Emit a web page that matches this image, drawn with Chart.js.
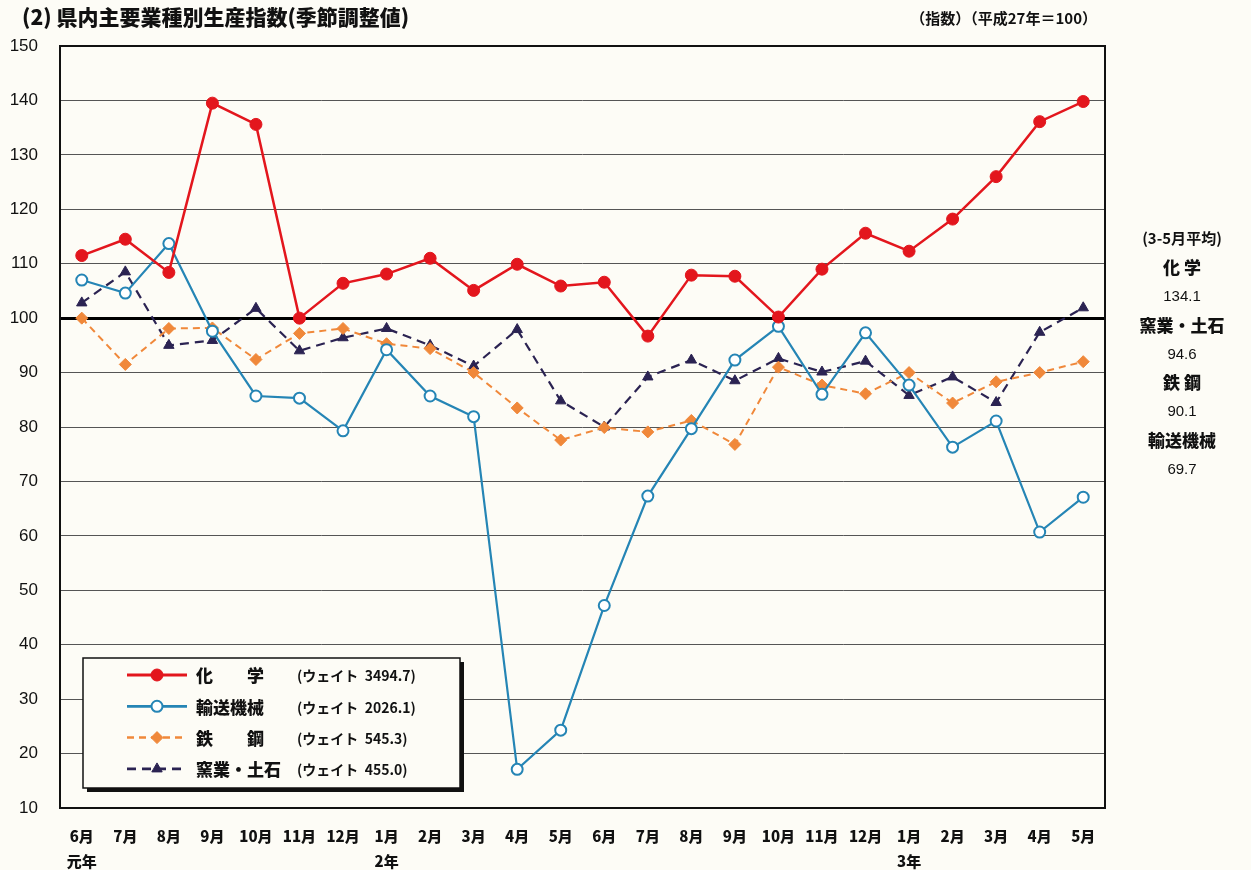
<!DOCTYPE html>
<html>
<head>
<meta charset="utf-8">
<script src="https://cdn.jsdelivr.net/npm/chart.js@4"></script>
<style>
  html, body { margin: 0; padding: 0; background: #fdfcf6; }
  #wrap { width: 1251px; height: 870px; position: relative; }
</style>
</head>
<body>
<div id="wrap"><canvas id="prodChart" width="1251" height="870"></canvas></div>
<script>
const months = ["6月","7月","8月","9月","10月","11月","12月","1月","2月","3月","4月","5月",
                "6月","7月","8月","9月","10月","11月","12月","1月","2月","3月","4月","5月"];
const yearLabels = ["元年","","","","","","","2年","","","","","","","","","","","","3年","","","",""];

const chemistry = [111.5,114.5,108.4,139.5,135.6,100.0,106.4,108.1,111.0,105.1,109.9,105.9,
                   106.6,96.7,107.9,107.7,100.2,109.0,115.6,112.3,118.2,126.0,136.1,139.8];
const transport = [107.0,104.6,113.7,97.6,85.7,85.3,79.3,94.2,85.7,81.9,17.1,24.3,
                   47.2,67.3,79.7,92.3,98.5,86.0,97.3,87.7,76.3,81.1,60.7,67.1];
const steel = [100.0,91.5,98.1,98.2,92.4,97.2,98.1,95.3,94.4,90.0,83.5,77.6,
               79.9,79.1,81.2,76.8,91.0,87.7,86.1,90.0,84.4,88.3,90.0,92.0];
const ceramics = [102.8,108.5,95.0,95.9,101.8,94.0,96.4,98.1,95.0,91.2,97.9,84.8,
                  80.0,89.2,92.3,88.5,92.6,90.1,92.1,85.8,89.2,84.5,97.4,101.9];

const seriesNames = ["化　　学", "輸送機械", "鉄　　鋼", "窯業・土石"];
const seriesWeights = ["3494.7", "2026.1", "545.3", "455.0"];

const avgNames = ["化 学", "窯業・土石", "鉄 鋼", "輸送機械"];
const avgValues = ["134.1", "94.6", "90.1", "69.7"];

const JP = "'Noto Sans CJK JP', 'Liberation Sans', sans-serif";
const NUM = "'Liberation Sans Narrow', 'Liberation Sans', Arial, sans-serif";

const decor = {
  id: "decor",
  beforeDraw(chart) {
    const { ctx } = chart;
    ctx.save();
    ctx.fillStyle = "#fdfcf6";
    ctx.fillRect(0, 0, chart.width, chart.height);
    ctx.restore();
  },
  afterDatasetsDraw(chart) {
    const { ctx, chartArea: a } = chart;
    ctx.save();
    // plot frame
    ctx.strokeStyle = "#111";
    ctx.lineWidth = 2;
    ctx.strokeRect(a.left, a.top, a.right - a.left, a.bottom - a.top);

    // title
    ctx.fillStyle = "#111";
    ctx.textBaseline = "middle";
    ctx.textAlign = "left";
    ctx.font = "900 21px " + JP;
    ctx.fillText("(2) 県内主要業種別生産指数(季節調整値)", 22, 17);
    ctx.font = "bold 15px " + JP;
    ctx.textAlign = "right";
    ctx.fillText("（指数）（平成27年＝100）", 1097, 18);

    // right side averages
    ctx.textAlign = "center";
    const cx = 1182;
    ctx.font = "bold 15px " + JP;
    ctx.fillText("(3-5月平均)", cx, 238);
    for (let i = 0; i < avgNames.length; i++) {
      ctx.font = "900 17px " + JP;
      ctx.fillText(avgNames[i], cx, 268 + i * 57.5);
      ctx.font = "15px " + NUM;
      ctx.fillText(avgValues[i], cx, 297 + i * 57.5);
    }

    // legend box
    const bx = 83, by = 658, bw = 377, bh = 130;
    ctx.fillStyle = "#111";
    ctx.fillRect(bx + 4, by + 4, bw, bh);
    ctx.fillStyle = "#fdfcf6";
    ctx.fillRect(bx, by, bw, bh);
    ctx.strokeStyle = "#111";
    ctx.lineWidth = 1.5;
    ctx.strokeRect(bx, by, bw, bh);

    chart.data.datasets.forEach((ds, i) => {
      const y = 675 + i * 31.3;
      ctx.save();
      ctx.strokeStyle = ds.borderColor;
      ctx.lineWidth = ds.borderWidth + 0.5;
      ctx.setLineDash(ds.borderDash || []);
      ctx.beginPath();
      ctx.moveTo(127, y);
      ctx.lineTo(187, y);
      ctx.stroke();
      ctx.setLineDash([]);
      ctx.fillStyle = ds.pointBackgroundColor;
      ctx.strokeStyle = ds.pointBorderColor;
      ctx.lineWidth = ds.pointBorderWidth || 1;
      Chart.helpers.drawPoint(ctx, {
        pointStyle: ds.pointStyle,
        radius: ds.pointRadius,
        borderWidth: ds.pointBorderWidth || 1
      }, 157, y);
      ctx.restore();
      ctx.fillStyle = "#111";
      ctx.textAlign = "left";
      ctx.font = "900 17px " + JP;
      ctx.fillText(seriesNames[i], 196, y + 1);
      ctx.font = "bold 14px " + JP;
      ctx.fillText("(ウェイト  " + seriesWeights[i] + ")", 297, y + 1);
    });
    ctx.restore();
  }
};

const ctx = document.getElementById("prodChart");
new Chart(ctx, {
  type: "line",
  data: {
    labels: months,
    datasets: [
      {
        label: "化学",
        data: chemistry,
        borderColor: "#e3161d",
        backgroundColor: "#e3161d",
        borderWidth: 2.5,
        pointStyle: "circle",
        pointRadius: 6,
        pointBackgroundColor: "#e3161d",
        pointBorderColor: "#e3161d",
        pointBorderWidth: 1
      },
      {
        label: "輸送機械",
        data: transport,
        borderColor: "#2585b5",
        backgroundColor: "#ffffff",
        borderWidth: 2.2,
        pointStyle: "circle",
        pointRadius: 5.5,
        pointBackgroundColor: "#ffffff",
        pointBorderColor: "#2585b5",
        pointBorderWidth: 2
      },
      {
        label: "鉄鋼",
        data: steel,
        borderColor: "#f0883a",
        backgroundColor: "#f0883a",
        borderWidth: 2,
        borderDash: [7, 5],
        pointStyle: "rectRot",
        pointRadius: 6,
        pointBackgroundColor: "#f0883a",
        pointBorderColor: "#f0883a",
        pointBorderWidth: 1
      },
      {
        label: "窯業・土石",
        data: ceramics,
        borderColor: "#2b2352",
        backgroundColor: "#2b2352",
        borderWidth: 2.2,
        borderDash: [9, 6],
        pointStyle: "triangle",
        pointRadius: 6,
        pointBackgroundColor: "#2b2352",
        pointBorderColor: "#2b2352",
        pointBorderWidth: 1
      }
    ]
  },
  options: {
    responsive: false,
    animation: false,
    layout: { padding: { top: 46, right: 146, left: 0, bottom: 0 } },
    plugins: {
      legend: { display: false },
      tooltip: { enabled: false }
    },
    scales: {
      x: {
        offset: true,
        afterFit: (s) => { s.height = 62; },
        grid: { display: false, drawTicks: false },
        border: { display: false },
        ticks: {
          autoSkip: false,
          maxRotation: 0,
          padding: 16,
          color: "#111",
          font: { family: JP, size: 15, weight: "900", lineHeight: 1.65 },
          callback: (v, i) => yearLabels[i] ? [months[i], yearLabels[i]] : months[i]
        }
      },
      y: {
        min: 10,
        max: 150,
        afterFit: (s) => { s.width = 60; },
        grid: {
          drawTicks: false,
          color: (c) => c.tick && c.tick.value === 100 ? "#000" : "#555",
          lineWidth: (c) => c.tick && c.tick.value === 100 ? 3 : 1
        },
        border: { display: false },
        ticks: {
          stepSize: 10,
          padding: 22,
          color: "#111",
          font: { family: NUM, size: 17 }
        }
      }
    }
  },
  plugins: [decor]
});
</script>
</body>
</html>
